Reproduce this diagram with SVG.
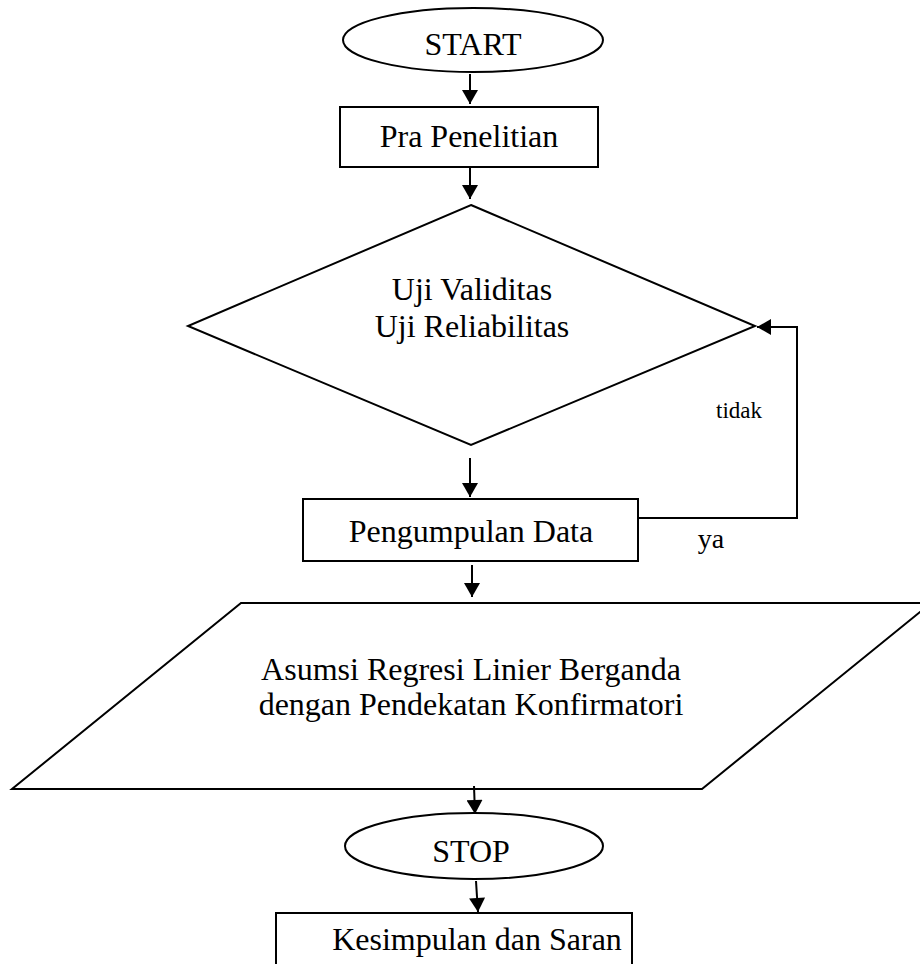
<svg xmlns="http://www.w3.org/2000/svg" width="920" height="964" viewBox="0 0 920 964">
  <style>
    .shape { fill: #ffffff; stroke: #000000; stroke-width: 2; }
    .lbl { font-family: "Liberation Serif", "Times New Roman", serif; font-size: 32px; fill: #000000; text-anchor: middle; }
    .small { font-family: "Liberation Serif", "Times New Roman", serif; fill: #000000; }
    .conn { fill: none; stroke: #000000; stroke-width: 2; }
  </style>
  <defs>
    <marker id="arrow" markerUnits="userSpaceOnUse" markerWidth="16" markerHeight="16" viewBox="0 0 14 16" refX="14" refY="8" orient="auto">
      <path d="M0,0 L14,8 L0,16 z" fill="#000000"/>
    </marker>
  </defs>
  <rect x="0" y="0" width="920" height="964" fill="#ffffff"/>

  <g id="start">
    <ellipse class="shape" cx="473" cy="40" rx="130" ry="32"/>
    <text class="lbl" x="473" y="55">START</text>
  </g>

  <g id="pra-penelitian">
    <rect class="shape" x="340" y="107" width="258" height="60"/>
    <text class="lbl" x="469" y="147">Pra Penelitian</text>
  </g>

  <g id="uji">
    <polygon class="shape" points="471,205 755,326 471,445 188,326"/>
    <text class="lbl" x="472" y="300">Uji Validitas</text>
    <text class="lbl" x="472" y="337">Uji Reliabilitas</text>
  </g>

  <g id="pengumpulan-data">
    <rect class="shape" x="303" y="499" width="335" height="62"/>
    <text class="lbl" x="471" y="542">Pengumpulan Data</text>
  </g>

  <g id="asumsi">
    <polygon class="shape" points="241,603 931,603 702,789 12,789"/>
    <text class="lbl" x="471" y="680">Asumsi Regresi Linier Berganda</text>
    <text class="lbl" x="471" y="715">dengan Pendekatan Konfirmatori</text>
  </g>

  <g id="stop">
    <ellipse class="shape" cx="474" cy="846" rx="129" ry="33"/>
    <text class="lbl" x="471" y="862">STOP</text>
  </g>

  <g id="kesimpulan">
    <rect class="shape" x="276" y="913" width="356" height="80"/>
    <text class="lbl" x="477" y="950">Kesimpulan dan Saran</text>
  </g>

  <g id="connectors">
    <line class="conn" x1="470" y1="74" x2="470" y2="104" marker-end="url(#arrow)"/>
    <line class="conn" x1="470" y1="167" x2="470" y2="199" marker-end="url(#arrow)"/>
    <line class="conn" x1="470" y1="458" x2="470" y2="497" marker-end="url(#arrow)"/>
    <line class="conn" x1="472" y1="565" x2="472" y2="597" marker-end="url(#arrow)"/>
    <line class="conn" x1="474" y1="786" x2="475" y2="814" marker-end="url(#arrow)"/>
    <line class="conn" x1="476" y1="881" x2="478" y2="912" marker-end="url(#arrow)"/>
    <polyline class="conn" points="638,518 797,518 797,327 757,327" marker-end="url(#arrow)"/>
    <text class="small" x="739" y="418" font-size="23" text-anchor="middle">tidak</text>
    <text class="small" x="711" y="548" font-size="28" text-anchor="middle">ya</text>
  </g>
</svg>
